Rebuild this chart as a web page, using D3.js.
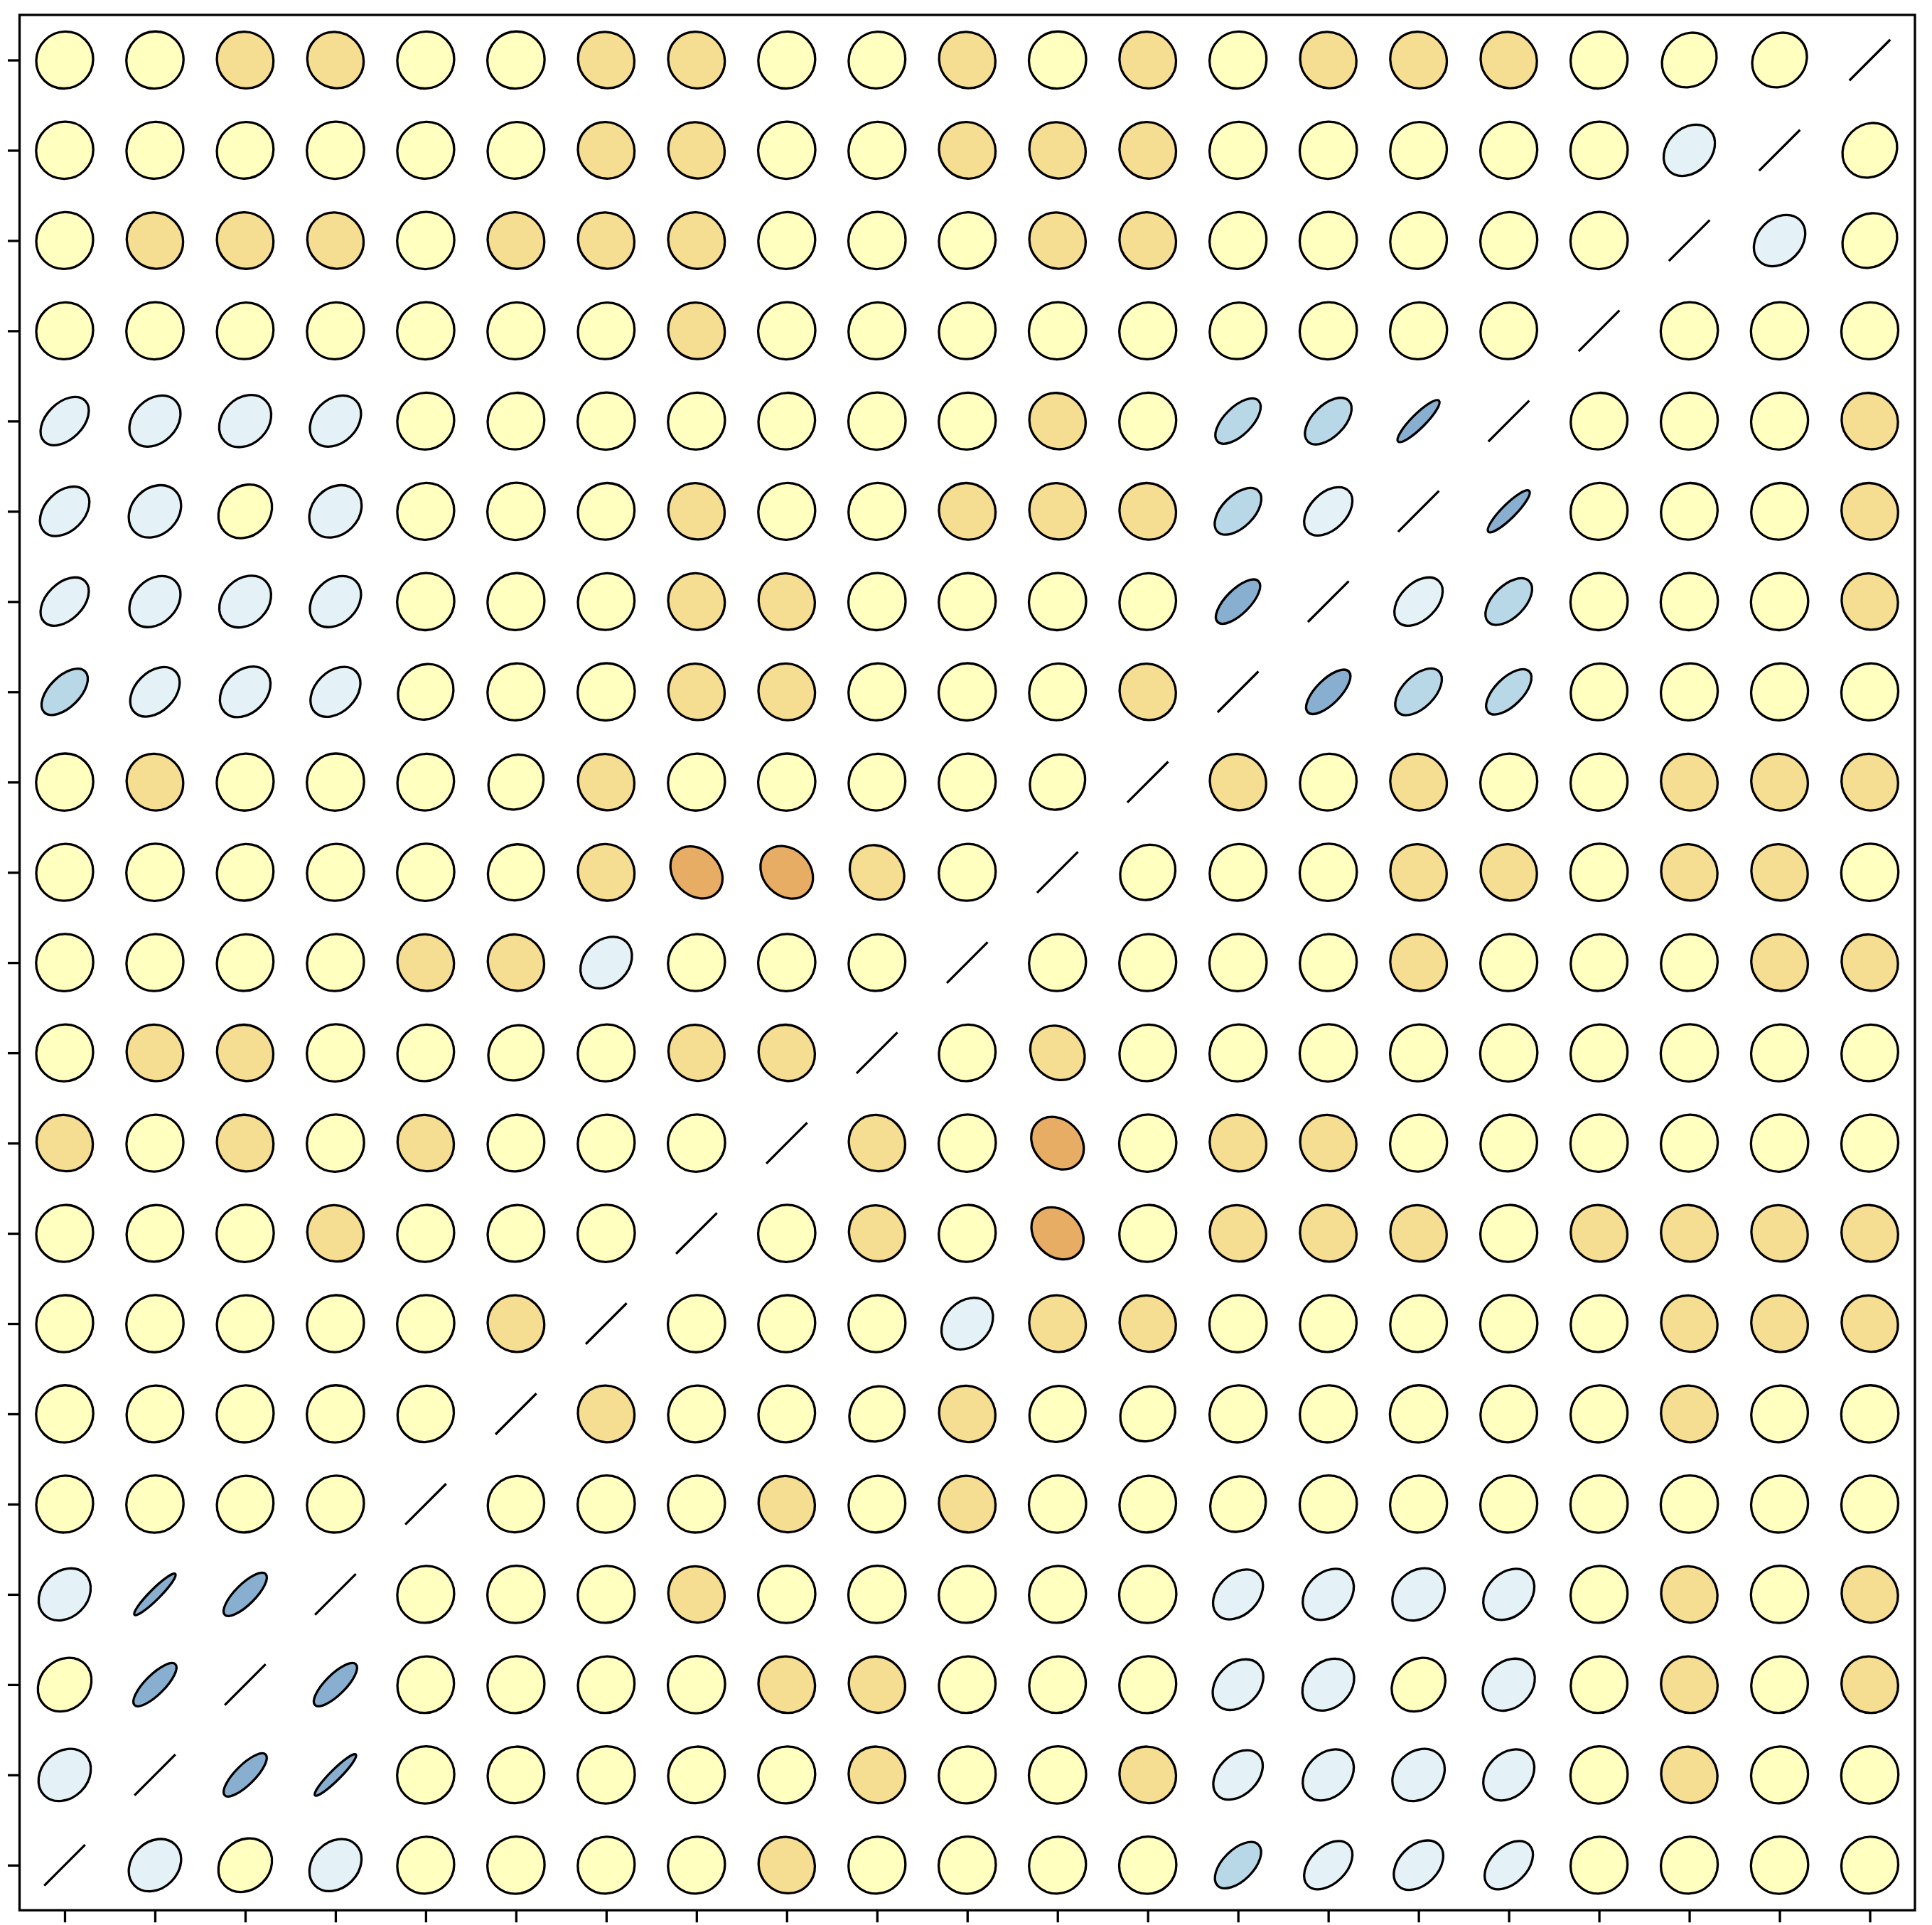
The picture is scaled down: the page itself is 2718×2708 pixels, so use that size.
<!DOCTYPE html>
<html>
<head>
<meta charset="utf-8">
<script src="https://cdn.jsdelivr.net/npm/d3@7"></script>
<style>
html, body { margin: 0; padding: 0; background: #fff; }
svg { display: block; }
</style>
</head>
<body>
<div id="chart"></div>
<script>
(function(doc) {

// lower triangle of the correlation matrix: row i holds r(i, 0 .. i-1)
var corrRows = [
	[],
	[0.20],
	[0.15, 0.66],
	[0.21, 0.82, 0.65],
	[0.03, 0.02, 0.04, 0.03],
	[0.02, 0.04, 0.03, 0.02, 0.05],
	[0.03, 0.02, 0.04, 0.03, 0.02, -0.04],
	[0.03, 0.04, 0.02, -0.05, 0.03, 0.04, 0.02],
	[-0.05, 0.03, -0.04, 0.02, -0.05, 0.04, 0.03, 0.02],
	[0.03, -0.04, -0.05, 0.02, 0.04, 0.09, 0.03, -0.06, -0.05],
	[0.02, 0.03, 0.04, 0.03, -0.04, -0.05, 0.23, 0.03, 0.02, 0.04],
	[0.03, 0.02, 0.04, 0.03, 0.02, 0.06, -0.04, -0.21, -0.19, -0.12, 0.03],
	[0.02, -0.04, 0.03, 0.02, 0.04, 0.10, -0.05, 0.03, 0.02, 0.04, 0.03, 0.09],
	[0.47, 0.32, 0.27, 0.30, 0.08, 0.03, 0.02, -0.05, -0.04, 0.03, 0.02, 0.04, -0.05],
	[0.37, 0.25, 0.22, 0.25, 0.02, 0.03, 0.04, -0.04, -0.05, 0.02, 0.03, 0.02, 0.04, 0.58],
	[0.32, 0.20, 0.15, 0.20, 0.03, 0.02, 0.04, -0.05, 0.03, 0.03, -0.04, -0.05, -0.04, 0.45, 0.37],
	[0.37, 0.25, 0.21, 0.25, 0.03, 0.04, 0.02, 0.03, 0.04, 0.02, 0.03, -0.05, 0.03, 0.52, 0.45, 0.76],
	[0.03, 0.02, 0.04, 0.03, 0.02, 0.03, 0.04, -0.04, 0.02, 0.03, 0.04, 0.02, 0.03, 0.04, 0.02, 0.03, 0.04],
	[0.03, -0.05, -0.04, -0.05, 0.02, -0.04, -0.05, -0.04, 0.03, 0.02, 0.04, -0.05, -0.04, 0.03, 0.02, 0.04, 0.03, 0.02],
	[0.02, 0.03, 0.04, 0.02, 0.03, 0.04, -0.04, -0.05, 0.02, 0.03, -0.04, -0.05, -0.04, 0.03, 0.02, 0.04, 0.03, 0.02, 0.24],
	[0.03, 0.02, -0.04, -0.05, 0.03, 0.02, -0.05, -0.04, 0.03, 0.04, -0.05, 0.02, -0.04, 0.03, -0.05, -0.04, -0.05, 0.03, 0.11, 0.11]
];
var ticks = [0, 1, 2, 3, 4, 5, 6, 7, 8, 9, 10, 11, 12, 13, 14, 15, 16, 17, 18, 19, 20];
var colorBreaks = [-0.16, 0, 0.18, 0.43, 0.54];
var colorSteps = ['#e8ad65', '#f5dd91', '#ffffbf', '#e4f1f7', '#b8d8e8', '#88aed0'];

var width = 2718, height = 2708;
var n = corrRows.length;
var cellFrac = 0.64;
var lineW = 3.3;

function corr(i, j) {
	if(i === j) return 1;
	return i > j ? corrRows[i][j] : corrRows[j][i];
}

// ellipse centred on 0,0 with the major axis on x; a flat one becomes a line
function ellipsePath(rx, ry) {
	if(ry < 0.01) return 'M' + (-rx) + ',0L' + rx + ',0';
	return 'M' + (-rx) + ',0A' + rx + ',' + ry + ' 0 1 0 ' + rx + ',0'
		+ 'A' + rx + ',' + ry + ' 0 1 0 ' + (-rx) + ',0Z';
}

var cells = [];
for(var i = 0; i < n; i++) {
	for(var j = 0; j < n; j++) {
		cells.push({ row: i, col: j, r: corr(i, j) });
	}
}

var x = d3.scaleLinear().domain([-0.5, n - 0.5]).range([27.5, 2694]);
var y = d3.scaleLinear().domain([-0.5, n - 0.5]).range([2687.3, 21]);
var color = d3.scaleThreshold().domain(colorBreaks).range(colorSteps);

var svg = d3.select('#chart').append('svg')
	.attr('width', width)
	.attr('height', height)
	.attr('viewBox', '0 0 ' + width + ' ' + height);

svg.append('rect')
	.attr('width', width)
	.attr('height', height)
	.attr('fill', '#fff');

var step = x(1) - x(0);
var rx = cellFrac * step / 2;

svg.append('g').attr('class', 'ellipses')
	.selectAll('path')
	.data(cells)
	.enter()
	.append('path')
	.attr('d', function(d) { return ellipsePath(rx, rx * (1 - Math.abs(d.r))); })
	.attr('transform', function(d) {
		return 'translate(' + x(d.col) + ',' + y(d.row) + ') rotate(' + (d.r >= 0 ? -45 : 45) + ')';
	})
	.attr('fill', function(d) { return color(d.r); })
	.attr('stroke', '#000')
	.attr('stroke-width', lineW);

// ticks only, no labels
var xAxis = svg.append('g')
	.attr('transform', 'translate(0,' + y(-0.5) + ')')
	.call(d3.axisBottom(x).tickValues(ticks).tickSize(17).tickFormat(''));
var yAxis = svg.append('g')
	.attr('transform', 'translate(' + x(-0.5) + ',0)')
	.call(d3.axisLeft(y).tickValues(ticks).tickSize(16.5).tickFormat(''));
[xAxis, yAxis].forEach(function(ax) {
	ax.select('.domain').remove();
	ax.selectAll('.tick line').attr('stroke', '#000').attr('stroke-width', lineW);
});

svg.append('rect')
	.attr('x', x(-0.5))
	.attr('y', y(n - 0.5))
	.attr('width', x(n - 0.5) - x(-0.5))
	.attr('height', y(-0.5) - y(n - 0.5))
	.attr('fill', 'none')
	.attr('stroke', '#000')
	.attr('stroke-width', lineW);

})(document);
</script>
</body>
</html>
